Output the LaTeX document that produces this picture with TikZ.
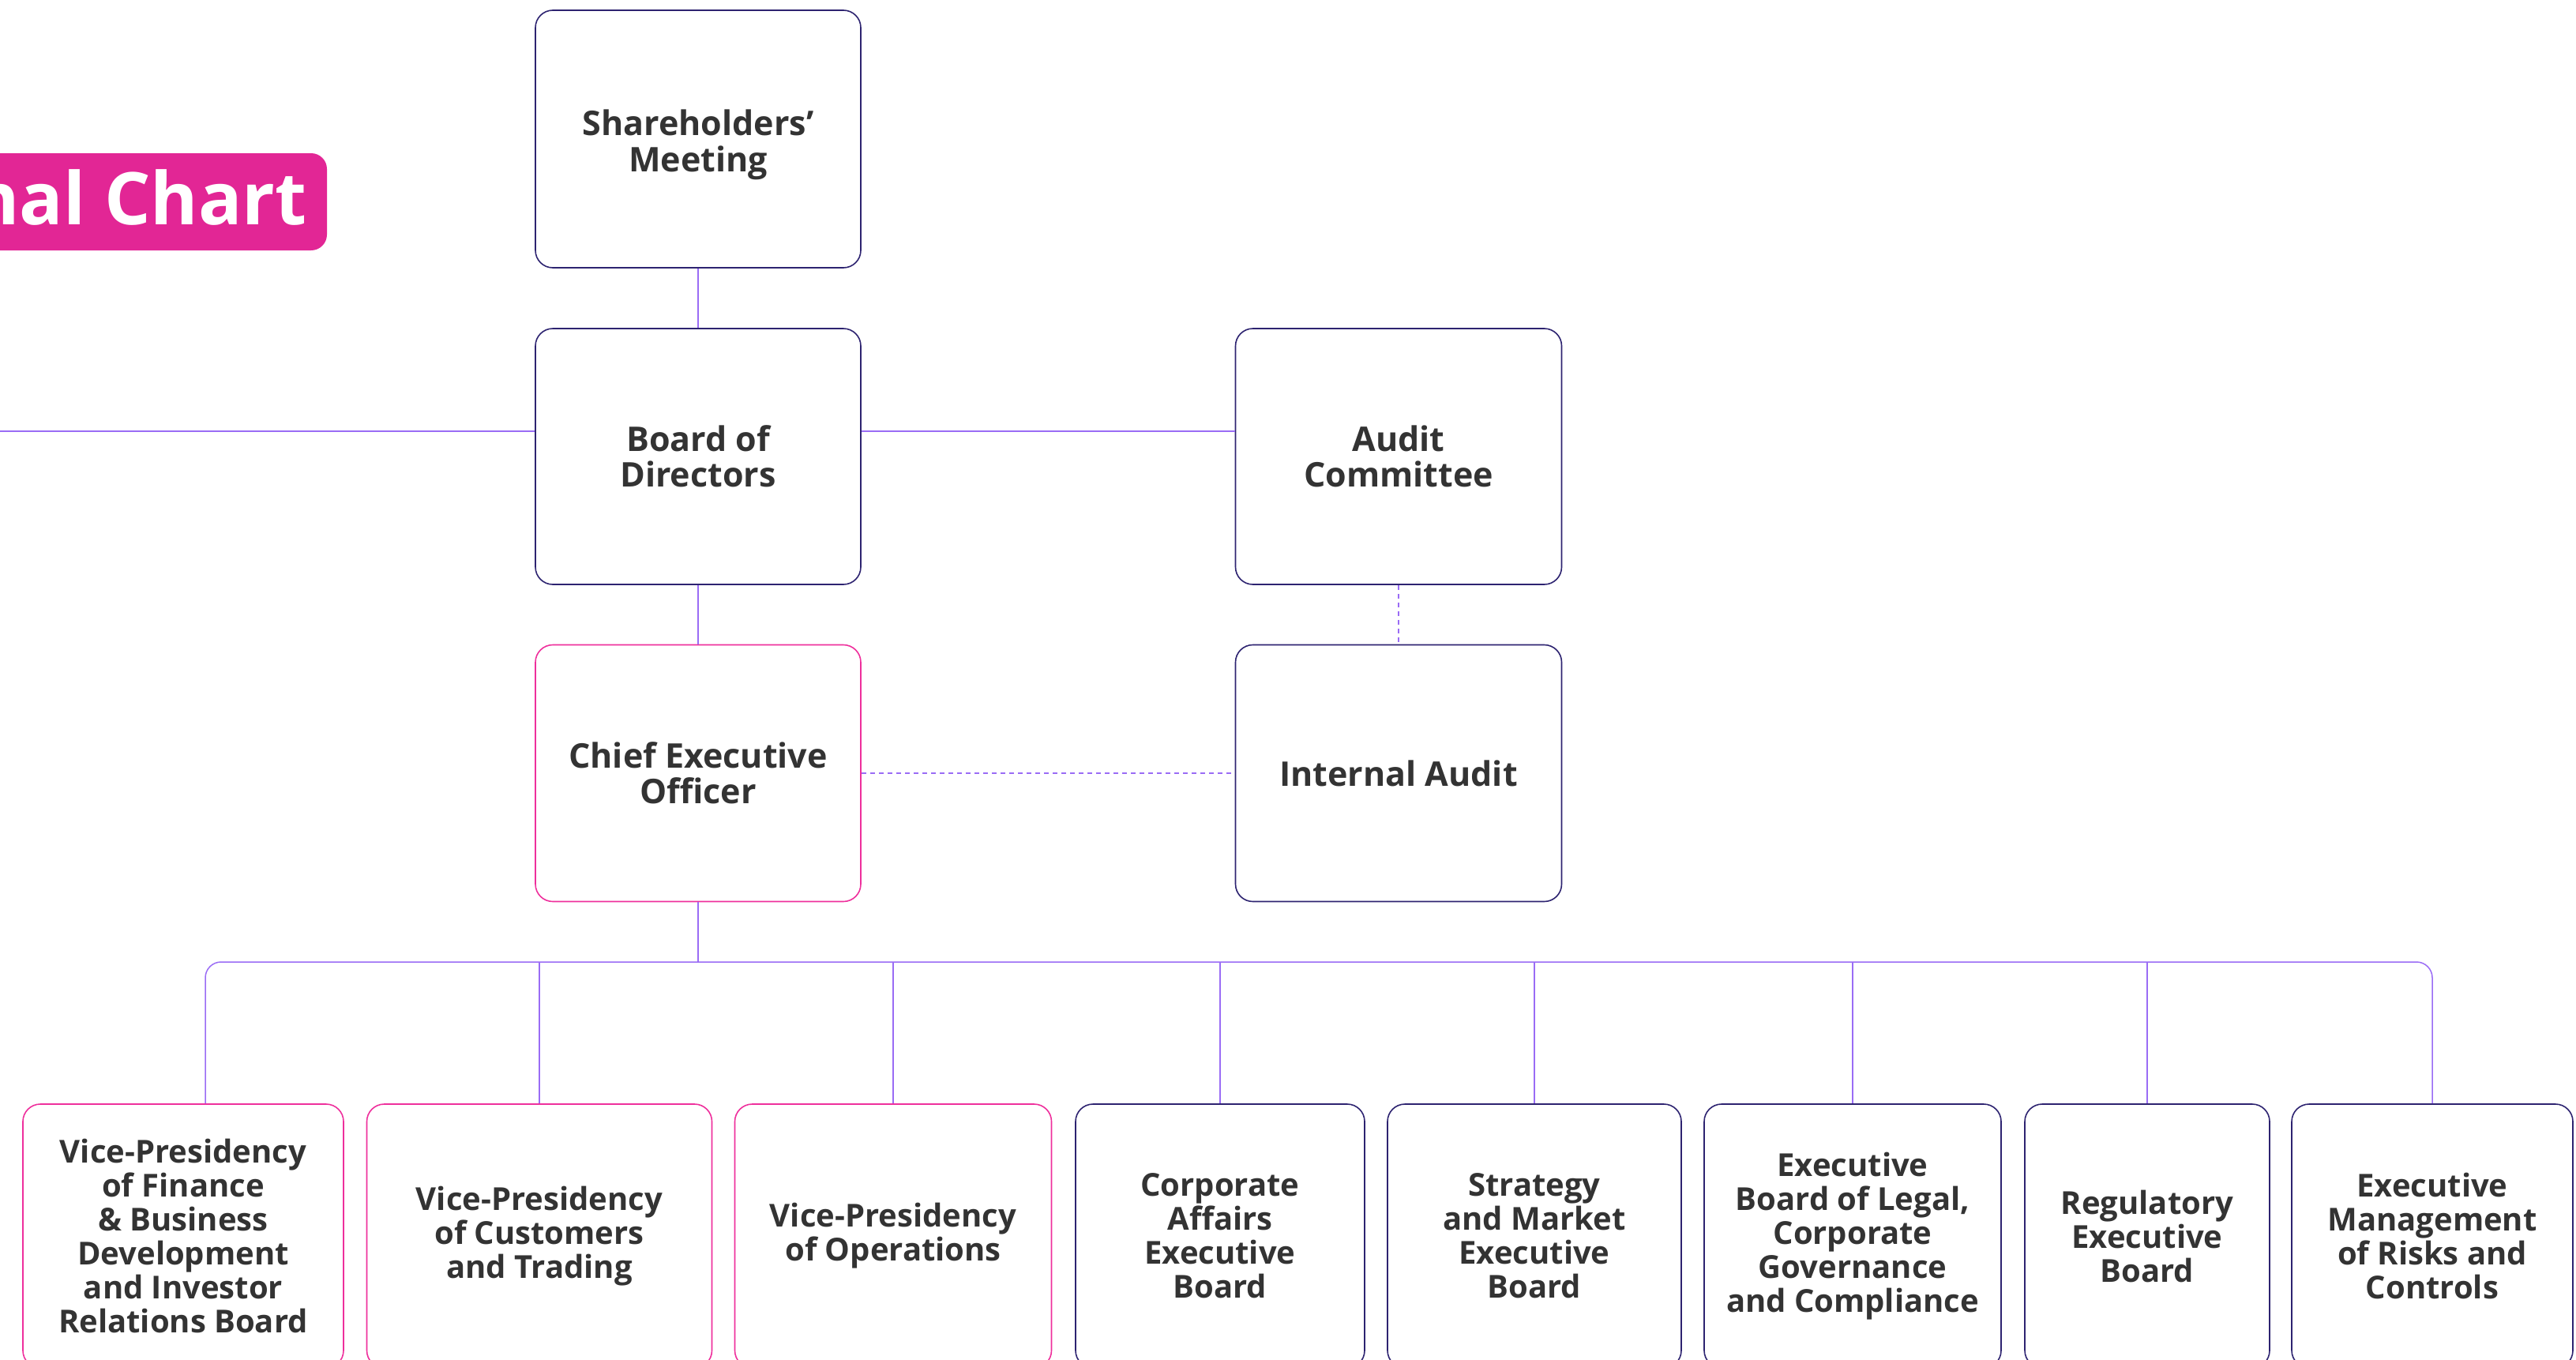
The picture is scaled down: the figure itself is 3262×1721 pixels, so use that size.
\documentclass[tikz,border=0pt]{standalone}
\usepackage{fontspec}
\setmainfont{Open Sans}
\definecolor{boxc}{HTML}{2D2370}
\definecolor{pinkc}{HTML}{EE2F9C}
\definecolor{connc}{HTML}{9A6CF5}
\definecolor{txtc}{HTML}{333333}
\definecolor{titlec}{HTML}{E22695}
\begin{document}
\begin{tikzpicture}[x=1pt,y=-1pt,
  box/.style={draw=boxc, line width=1.6pt, rounded corners=22pt, align=center,
    font=\fontsize{40}{43}\selectfont\bfseries, text=txtc, inner sep=0pt},
  tbox/.style={box, font=\fontsize{43}{45}\selectfont\bfseries},
  pbox/.style={box, draw=pinkc},
  conn/.style={draw=connc, line width=1.5pt},
  dconn/.style={conn, dash pattern=on 6pt off 5pt}]
\useasboundingbox (0,0) rectangle (3262,1721);
% title
\fill[titlec, rounded corners=20pt] (-60,194) rectangle (414,317);
\node[anchor=base east, text=white, font=\fontsize{92}{92}\selectfont\bfseries, inner sep=0pt] (title) at (389,284) {Organizational Chart};
% top nodes
\node[tbox, minimum width=412pt, minimum height=326pt] (sh) at (884,176) {};
\node[font=\fontsize{43}{46}\selectfont\bfseries, text=txtc, align=center, inner sep=0pt] (shtxt) at (884,183) {Shareholders’\\Meeting};
\node[tbox, minimum width=412pt, minimum height=324pt] (bd) at (884,578) {Board of\\Directors};
\node[tbox, minimum width=413pt, minimum height=324pt] (ac) at (1771,578) {Audit\\Committee};
\node[tbox, draw=pinkc, minimum width=412pt, minimum height=325pt] (ceo) at (884,979) {Chief Executive\\Officer};
\node[tbox, minimum width=413pt, minimum height=325pt] (ia) at (1771,979) {Internal Audit};
% bottom nodes
\node[pbox, minimum width=406pt, minimum height=334pt] (b1) at (232,1565) {Vice-Presidency\\of Finance\\\& Business\\Development\\and Investor\\Relations Board};
\node[pbox, minimum width=437pt, minimum height=334pt] (b2) at (683,1565) {Vice-Presidency\\of Customers\\and Trading};
\node[pbox, minimum width=401pt, minimum height=334pt] (b3) at (1131,1565) {Vice-Presidency\\of Operations};
\node[box, minimum width=366pt, minimum height=334pt] (b4) at (1545,1565) {Corporate\\Affairs\\Executive\\Board};
\node[box, minimum width=372pt, minimum height=334pt] (b5) at (1943,1565) {Strategy\\and Market\\Executive\\Board};
\node[box, minimum width=376pt, minimum height=334pt] (b6) at (2346,1565) {Executive\\Board of Legal,\\Corporate\\Governance\\and Compliance};
\node[box, minimum width=310pt, minimum height=334pt] (b7) at (2719,1565) {Regulatory\\Executive\\Board};
\node[box, minimum width=356pt, minimum height=334pt] (b8) at (3080,1565) {Executive\\Management\\of Risks and\\Controls};
% coordinates
\coordinate (lend) at (0,546);
\coordinate (busL) at (260,1218);
\coordinate (busR) at (3080,1218);
% connectors
\draw[conn] (sh.south) -- (bd.north);
\draw[conn] (bd.south) -- (ceo.north);
\draw[conn] (bd.west |- lend) -- (lend);
\draw[conn] (bd.east |- lend) -- (ac.west |- lend);
\draw[dconn] (ac.south) -- (ia.north);
\draw[dconn] (ceo.east) -- (ia.west);
\draw[conn] (ceo.south) -- (ceo.south |- busL);
\draw[conn, rounded corners=20pt] (b1.north -| busL) -- (busL) -- (busR) -- (b8.north);
\foreach \b in {b2,b3,b4,b5,b6,b7}{\draw[conn] (\b.north) -- (\b.north |- busL);}
\end{tikzpicture}
\end{document}
